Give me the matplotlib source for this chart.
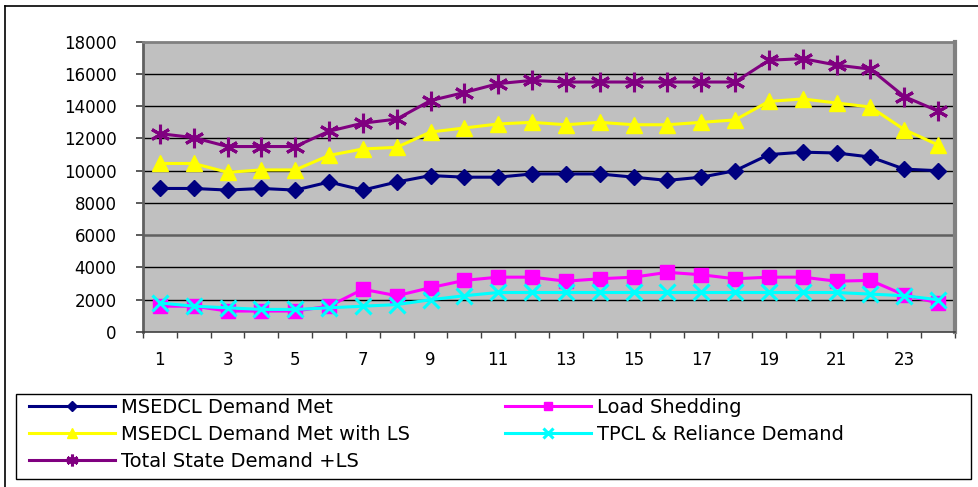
import matplotlib
matplotlib.use("Agg")
import matplotlib.pyplot as plt
from matplotlib.lines import Line2D
from matplotlib.patches import Rectangle
import numpy as np

plt.rcParams['font.family'] = ['DejaVu Sans']

# hours of the day
hours = list(range(1, 25))

msedcl_met = [8900, 8900, 8800, 8900, 8800, 9300, 8800, 9300, 9700, 9600, 9600, 9800,
              9800, 9800, 9600, 9400, 9600, 10000, 11000, 11150, 11100, 10850, 10100, 10000]
load_shed = [1600, 1600, 1300, 1300, 1300, 1600, 2650, 2250, 2750, 3200, 3400, 3400,
             3150, 3300, 3400, 3700, 3550, 3300, 3400, 3400, 3150, 3200, 2300, 1800]
msedcl_ls = [10450, 10450, 9900, 10050, 10050, 10950, 11350, 11450, 12400, 12650, 12900, 13000,
             12850, 13000, 12850, 12850, 13000, 13150, 14300, 14450, 14200, 13950, 12550, 11600]
tpcl_rel = [1800, 1600, 1500, 1400, 1400, 1500, 1600, 1700, 2000, 2250, 2450, 2450,
            2450, 2450, 2450, 2450, 2450, 2450, 2450, 2450, 2450, 2350, 2250, 2000]
total_state = [12300, 12050, 11500, 11500, 11500, 12450, 12950, 13200, 14350, 14850, 15400, 15600,
               15500, 15500, 15500, 15500, 15500, 15500, 16850, 16950, 16550, 16300, 14600, 13700]

W, H = 979, 487
fig = plt.figure(figsize=(W/100, H/100), dpi=100)
ax = fig.add_axes([143/W, 1-332/H, (955-143)/W, (332-41.7)/H])
ax.set_facecolor('#c0c0c0')

x = np.arange(len(hours))

l1, = ax.plot(x, msedcl_met, color='#000080', lw=2.2, marker='D', ms=8.5,
              label='MSEDCL Demand Met', zorder=3)
l2, = ax.plot(x, load_shed, color='#ff00ff', lw=2.2, marker='s', ms=10,
              label='Load Shedding', zorder=3)
l3, = ax.plot(x, msedcl_ls, color='#ffff00', lw=2.2, marker='^', ms=12,
              label='MSEDCL Demand Met with LS', zorder=3)
l4, = ax.plot(x, tpcl_rel, color='#00ffff', lw=2.2, marker='x', ms=12, mew=2.2,
              label='TPCL & Reliance Demand', zorder=4)
l5, = ax.plot(x, total_state, color='#800080', lw=2.2, marker=(6, 2, 0), ms=14, mew=2.2,
              label='Total State Demand +LS', zorder=3)

ax.set_xlim(-0.5, 23.5)
ax.set_ylim(0, 18000)

# grid lines
for v in range(2000, 18000, 2000):
    if v == 6000:
        ax.axhline(v, color='#606060', lw=1.8, zorder=1)
    else:
        ax.axhline(v, color='black', lw=1.0, zorder=1)

ax.set_yticks(range(0, 18001, 2000))
ax.set_yticklabels([str(v) for v in range(0, 18001, 2000)], fontsize=12)
ax.tick_params(axis='y', length=5, width=1.2, direction='out', pad=14, color='#404040')

ax.set_xticks(x[::2])
ax.set_xticklabels([str(h) for h in hours[::2]], fontsize=12)
ax.set_xticks(np.arange(-0.5, 24, 1), minor=True)
ax.tick_params(axis='x', which='major', length=0, pad=14)
ax.tick_params(axis='x', which='minor', length=4, width=1, color='#404040')

ax.spines['left'].set_color('#606060')
ax.spines['left'].set_linewidth(2)
ax.spines['bottom'].set_color('#404040')
ax.spines['bottom'].set_linewidth(1.2)
ax.spines['top'].set_color('#808080')
ax.spines['top'].set_linewidth(2)
ax.spines['right'].set_color('#808080')
ax.spines['right'].set_linewidth(3)

# outer chart border
fig.add_artist(Line2D([5/W, 1], [1-6/H, 1-6/H], color='black', lw=1.2))
fig.add_artist(Line2D([5/W, 5/W], [0, 1-6/H], color='black', lw=1.2))

# legend box
fig.add_artist(Rectangle((16/W, 1-479/H), (971-16)/W, (479-394)/H,
                         transform=fig.transFigure, fill=False,
                         edgecolor='black', lw=1.0))

leg_kw = dict(loc='upper left', fontsize=14, frameon=False,
              handlelength=4.4, handletextpad=0.35, labelspacing=0.4,
              borderpad=0, markerscale=0.6, borderaxespad=0)
col1 = [l1, l3, l5]
col2 = [l2, l4]
leg1 = fig.legend(handles=col1, labels=[h.get_label() for h in col1],
                  bbox_to_anchor=(29/W, 1-398/H), **leg_kw)
leg2 = fig.legend(handles=col2, labels=[h.get_label() for h in col2],
                  bbox_to_anchor=(505/W, 1-398/H), **leg_kw)

fig.savefig('out.png', dpi=100)
